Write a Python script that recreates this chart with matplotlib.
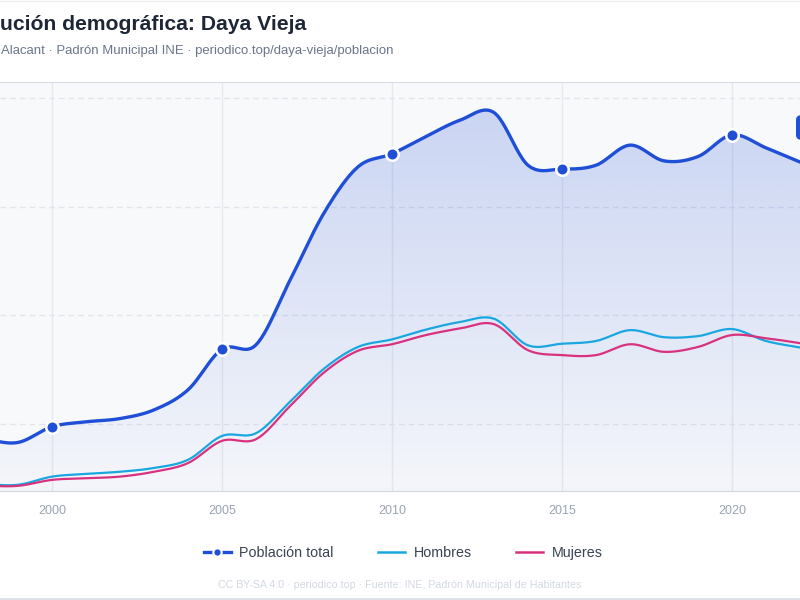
import numpy as np
import matplotlib
matplotlib.use("Agg")
import matplotlib.pyplot as plt
from matplotlib.lines import Line2D
from matplotlib.patches import FancyBboxPatch

plt.rcParams["font.family"] = ["Liberation Sans", "DejaVu Sans"]

# datos (padrón INE, Daya Vieja)
years = [1998, 1999, 2000, 2001, 2002, 2003, 2004, 2005, 2006, 2007, 2008, 2009, 2010,
         2011, 2012, 2013, 2014, 2015, 2016, 2017, 2018, 2019, 2020, 2021, 2022, 2023]
total = [172, 166, 195, 204, 210, 226, 263, 338, 346, 465, 589, 674, 698,
         730, 760, 774, 677, 670, 677, 714, 685, 693, 733, 709, 683, 660]
hombres = [89, 88, 103, 108, 112, 119, 134, 178, 183, 241, 302, 342, 356,
           374, 388, 394, 345, 348, 353, 373, 360, 362, 375, 353, 341, 330]
mujeres = [86, 86, 97, 100, 103, 112, 128, 169, 172, 233, 295, 335, 347,
           364, 376, 384, 336, 327, 327, 347, 333, 342, 364, 358, 349, 338]
xticks = [2000, 2005, 2010, 2015, 2020]
marker_years = [2000, 2005, 2010, 2015, 2020]

BLUE = "#1f4fd6"
SKY = "#1aa7e0"
PINK = "#d8327e"


def smooth(x, y, n=24):
    # catmull-rom, pasa por todos los puntos
    x = np.asarray(x, float)
    y = np.asarray(y, float)
    m = np.gradient(y, x)
    xs, ys = [], []
    for i in range(len(x) - 1):
        h = x[i + 1] - x[i]
        t = np.linspace(0, 1, n, endpoint=False)
        h00 = 2 * t**3 - 3 * t**2 + 1
        h10 = t**3 - 2 * t**2 + t
        h01 = -2 * t**3 + 3 * t**2
        h11 = t**3 - t**2
        xs.append(x[i] + t * h)
        ys.append(h00 * y[i] + h10 * h * m[i] + h01 * y[i + 1] + h11 * h * m[i + 1])
    xs.append([x[-1]])
    ys.append([y[-1]])
    return np.concatenate(xs), np.concatenate(ys)


fig = plt.figure(figsize=(8, 6), dpi=100)
fig.patch.set_facecolor("white")
ax = fig.add_axes([0, 109 / 600, 1, 409 / 600])
ax.set_facecolor("#f8f9fb")

x0, x1 = 2000 - 52 / 34, 2000 + 748 / 34
ybot, ytop = 76.5, 830.4
ax.set_xlim(x0, x1)
ax.set_ylim(ybot, ytop)

tx, ty = smooth(years, total)
hx, hy = smooth(years, hombres)
mx, my = smooth(years, mujeres)

# relleno degradado bajo la población total
poly = ax.fill_between(tx, ty, ybot, color="none", lw=0)
grad = np.zeros((256, 1, 4))
grad[:, 0, 0] = 0x24 / 255
grad[:, 0, 1] = 0x51 / 255
grad[:, 0, 2] = 0xd6 / 255
grad[:, 0, 3] = np.linspace(0.23, 0.02, 256)
im = ax.imshow(grad, extent=[x0, x1, ybot, ytop], origin="upper", aspect="auto", zorder=1)
im.set_clip_path(poly.get_paths()[0], transform=ax.transData)

ax.plot(hx, hy, color=SKY, lw=1.6, zorder=3)
ax.plot(mx, my, color=PINK, lw=1.6, zorder=3)
ax.plot(tx, ty, color=BLUE, lw=2.4, zorder=4, solid_capstyle="round")
mk = [total[years.index(y)] for y in marker_years]
ax.plot(marker_years, mk, "o", color=BLUE, ms=9, mec="white", mew=1.8, zorder=5)

ax.set_xticks(xticks)
ax.set_xticklabels([str(y) for y in xticks])
ax.set_yticks([200, 400, 600, 800])
ax.set_yticklabels([])
ax.tick_params(length=0, labelsize=9, labelcolor="#9aa3b2", pad=10)
ax.grid(axis="y", color="#e1e5ec", lw=1, ls=(0, (4, 3)), zorder=0)
ax.grid(axis="x", color="#e6e9ef", lw=1, zorder=0)
for s in ["left", "right"]:
    ax.spines[s].set_visible(False)
ax.spines["top"].set_color("#d6dde8")
ax.spines["bottom"].set_color("#d4d8e0")
ax.set_axisbelow(True)

# etiqueta azul recortada a la derecha
fig.patches.append(FancyBboxPatch((796 / 800, 1 - 140 / 600), 0.05, 25 / 600,
                                  boxstyle="round,pad=0,rounding_size=0.008",
                                  transform=fig.transFigure, fc=BLUE, ec="none"))

# título y subtítulo tal como se ven (recortados por la izquierda)
fig.text(0 / 800, 1 - 24 / 600, "ución demográfica: Daya Vieja", ha="left", va="center",
         fontsize=15.2, fontweight="bold", color="#1e2736")
fig.text(1 / 800, 1 - 51 / 600, "Alacant · Padrón Municipal INE · periodico.top/daya-vieja/poblacion",
         ha="left", va="center", fontsize=9.45, color="#6b7689")

handles = [Line2D([], [], color=BLUE, lw=2.4, marker="o", ms=6, mec="white", mew=1.5),
           Line2D([], [], color=SKY, lw=1.8),
           Line2D([], [], color=PINK, lw=1.8)]
fig.legend(handles, ["Población total", "Hombres", "Mujeres"], loc="center",
           bbox_to_anchor=(0.504, 1 - 553 / 600), ncol=3, frameon=False, fontsize=10.3,
           labelcolor="#3a4352", handlelength=1.9, handletextpad=0.6, columnspacing=3.1)

fig.text(0.5, 1 - 585 / 600, "CC BY-SA 4.0 · periodico.top · Fuente: INE, Padrón Municipal de Habitantes",
         ha="center", va="center", fontsize=7.7, color="#d3d8e1")

fig.add_artist(Line2D([0, 1], [0.0015, 0.0015], transform=fig.transFigure, color="#d8dce4", lw=1.2))
fig.add_artist(Line2D([0, 1], [0.999, 0.999], transform=fig.transFigure, color="#eceff3", lw=1))

fig.savefig("out.png", dpi=100)
